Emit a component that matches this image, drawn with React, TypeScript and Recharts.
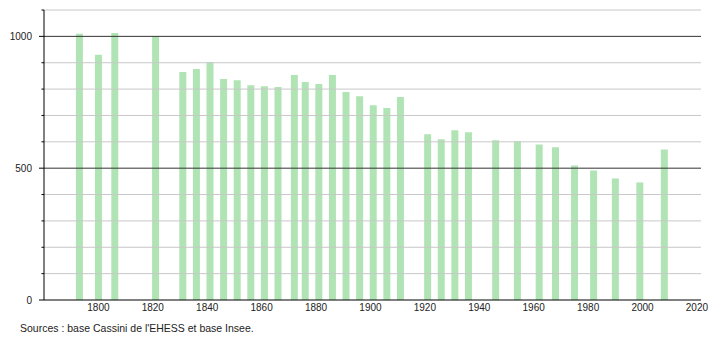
import React from 'react';
import { BarChart, Bar, XAxis, YAxis, ReferenceLine } from 'recharts';

const years = [1793, 1800, 1806, 1821, 1831, 1836, 1841, 1846, 1851, 1856, 1861, 1866, 1872, 1876, 1881, 1886, 1891, 1896, 1901, 1906, 1911, 1921, 1926, 1931, 1936, 1946, 1954, 1962, 1968, 1975, 1982, 1990, 1999, 2008];
const population = [1010, 930, 1013, 1001, 865, 876, 903, 838, 834, 815, 811, 808, 853, 827, 819, 853, 789, 773, 739, 728, 770, 629, 610, 644, 636, 606, 602, 590, 579, 510, 491, 461, 446, 571];
const xTicks = [1800, 1820, 1840, 1860, 1880, 1900, 1920, 1940, 1960, 1980, 2000, 2020];
const yTicks = [0, 100, 200, 300, 400, 500, 600, 700, 800, 900, 1000, 1100];
const yLabels = [0, 500, 1000];
const minorGrid = [100, 200, 300, 400, 600, 700, 800, 900, 1100];
const majorGrid = [500, 1000];
const sourceText = "Sources : base Cassini de l'EHESS et base Insee.";

const data = years.map((y, i) => ({ year: y, pop: population[i] }));

const FONT = '"Liberation Sans", Arial, Helvetica, sans-serif';

const YTick = (props: any) => {
  const { x, y, payload } = props;
  const v = payload.value;
  const major = yLabels.includes(v);
  return (
    <g>
      <line x1={x - (major ? 5 : 2.5)} x2={x} y1={y} y2={y} stroke="#000" strokeWidth={1} />
      {major && (
        <text x={x - 12} y={y} dy="0.35em" textAnchor="end" fontSize={10} fontFamily={FONT} fill="#222">
          {v}
        </text>
      )}
    </g>
  );
};

export default function App() {
  return (
    <div style={{ position: 'absolute', left: 0, top: 0, width: 710, height: 340, background: '#fff' }}>
      <BarChart
        width={710}
        height={340}
        data={data}
        margin={{ top: 10, right: 9, bottom: 20, left: 0 }}
        barSize={7}
      >
        {minorGrid.map((v) => (
          <ReferenceLine key={'m' + v} y={v} stroke="#c8c8c8" strokeWidth={1} ifOverflow="extendDomain" />
        ))}
        {majorGrid.map((v) => (
          <ReferenceLine key={'M' + v} y={v} stroke="#333" strokeWidth={1} />
        ))}
        <XAxis
          dataKey="year"
          type="number"
          domain={[1780, 2021.5]}
          ticks={xTicks}
          interval={0}
          tickLine={false}
          tickSize={0}
          tickMargin={4}
          height={20}
          axisLine={{ stroke: '#000', strokeWidth: 1 }}
          tick={{ fontSize: 10, fontFamily: FONT, fill: '#222' }}
          allowDataOverflow
        />
        <YAxis
          type="number"
          domain={[0, 1100]}
          ticks={yTicks}
          interval={0}
          width={44}
          tickLine={false}
          tickSize={0}
          tickMargin={0}
          axisLine={{ stroke: '#000', strokeWidth: 1 }}
          tick={<YTick />}
        />
        <Bar dataKey="pop" fill="#b1e4b4" isAnimationActive={false} />
      </BarChart>
      <div
        style={{
          position: 'absolute',
          left: 20,
          top: 322,
          fontSize: 10.5,
          fontFamily: FONT,
          color: '#222',
          whiteSpace: 'nowrap',
        }}
      >
        {sourceText}
      </div>
    </div>
  );
}
